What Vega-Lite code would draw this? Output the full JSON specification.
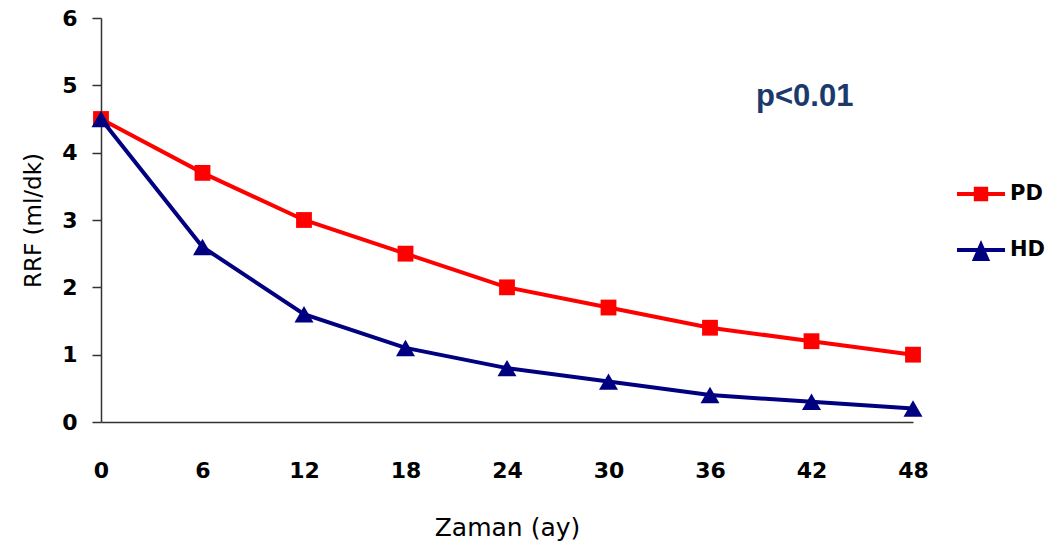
{
  "$schema": "https://vega.github.io/schema/vega-lite/v6.json",
  "width": 812,
  "height": 404,
  "autosize": {"type": "none"},
  "padding": {"left": 101, "top": 18, "right": 140, "bottom": 129},
  "background": "white",
  "config": {"view": {"stroke": null}},
  "data": {
    "values": [
      {"month": 0, "rrf": 4.5, "group": "PD"},
      {"month": 6, "rrf": 3.7, "group": "PD"},
      {"month": 12, "rrf": 3.0, "group": "PD"},
      {"month": 18, "rrf": 2.5, "group": "PD"},
      {"month": 24, "rrf": 2.0, "group": "PD"},
      {"month": 30, "rrf": 1.7, "group": "PD"},
      {"month": 36, "rrf": 1.4, "group": "PD"},
      {"month": 42, "rrf": 1.2, "group": "PD"},
      {"month": 48, "rrf": 1.0, "group": "PD"},
      {"month": 0, "rrf": 4.5, "group": "HD"},
      {"month": 6, "rrf": 2.6, "group": "HD"},
      {"month": 12, "rrf": 1.6, "group": "HD"},
      {"month": 18, "rrf": 1.1, "group": "HD"},
      {"month": 24, "rrf": 0.8, "group": "HD"},
      {"month": 30, "rrf": 0.6, "group": "HD"},
      {"month": 36, "rrf": 0.4, "group": "HD"},
      {"month": 42, "rrf": 0.3, "group": "HD"},
      {"month": 48, "rrf": 0.2, "group": "HD"}
    ]
  },
  "encoding": {
    "x": {
      "field": "month",
      "type": "quantitative",
      "scale": {"domain": [0, 48], "nice": false, "zero": false},
      "axis": {
        "title": "Zaman (ay)",
        "values": [0, 6, 12, 18, 24, 30, 36, 42, 48],
        "grid": false,
        "ticks": false,
        "tickSize": 0,
        "labelFlush": false,
        "labelPadding": 38,
        "labelFont": "DejaVu Sans",
        "labelFontWeight": "bold",
        "labelFontSize": 22,
        "labelColor": "black",
        "domainColor": "#333333",
        "domainWidth": 1.5,
        "titleFont": "DejaVu Sans",
        "titleFontWeight": "normal",
        "titleFontSize": 25,
        "titleColor": "black",
        "titlePadding": 34
      }
    },
    "y": {
      "field": "rrf",
      "type": "quantitative",
      "scale": {"domain": [0, 6], "nice": false},
      "axis": {
        "title": "RRF (ml/dk)",
        "values": [0, 1, 2, 3, 4, 5, 6],
        "grid": false,
        "tickSize": 9,
        "tickColor": "#333333",
        "tickWidth": 1.5,
        "labelPadding": 15,
        "labelFont": "DejaVu Sans",
        "labelFontWeight": "bold",
        "labelFontSize": 22,
        "labelColor": "black",
        "domainColor": "#333333",
        "domainWidth": 1.5,
        "titleFont": "DejaVu Sans",
        "titleFontWeight": "normal",
        "titleFontSize": 23,
        "titleColor": "black",
        "titlePadding": 16
      }
    }
  },
  "layer": [
    {
      "mark": {"type": "line", "strokeWidth": 4},
      "encoding": {
        "color": {
          "field": "group",
          "type": "nominal",
          "sort": ["PD", "HD"],
          "scale": {"domain": ["PD", "HD"], "range": ["#FF0000", "#000080"]},
          "legend": {
            "title": null,
            "orient": "none",
            "legendX": 856,
            "legendY": 152,
            "symbolSize": 2304,
            "symbolType": "square",
            "rowPadding": 22,
            "labelOffset": 5,
            "labelFont": "DejaVu Sans",
            "labelFontWeight": "bold",
            "labelFontSize": 21,
            "labelColor": "black",
            "encode": {
              "symbols": {
                "update": {
                  "shape": {"signal": "datum.value === 'PD' ? 'M-1,-0.085H1V0.085H-1Z M-0.3,-0.3H0.3V0.3H-0.3Z' : 'M-1,-0.085H1V0.085H-1Z M0,-0.42L0.38,0.46H-0.38Z'"},
                  "fill": {"signal": "datum.value === 'PD' ? '#FF0000' : '#000080'"},
                  "stroke": {"value": null},
                  "strokeWidth": {"value": 0},
                  "opacity": {"value": 1}
                }
              }
            }
          }
        },
        "order": {"field": "month", "type": "quantitative"}
      }
    },
    {
      "transform": [{"filter": "datum.group === 'PD'"}],
      "mark": {"type": "point", "shape": "square", "filled": true, "opacity": 1, "size": 250},
      "encoding": {
        "color": {"field": "group", "type": "nominal", "legend": null}
      }
    },
    {
      "transform": [{"filter": "datum.group === 'HD'"}],
      "mark": {"type": "point", "shape": "triangle-up", "filled": true, "opacity": 1, "size": 360},
      "encoding": {
        "color": {"field": "group", "type": "nominal", "legend": null}
      }
    },
    {
      "data": {"values": [{"label": "p<0.01", "month": 41.6, "rrf": 4.83}]},
      "mark": {
        "type": "text",
        "font": "Liberation Sans",
        "fontWeight": "bold",
        "fontSize": 31,
        "color": "#1B3A6B",
        "align": "center",
        "baseline": "middle"
      },
      "encoding": {
        "text": {"field": "label"}
      }
    }
  ]
}
